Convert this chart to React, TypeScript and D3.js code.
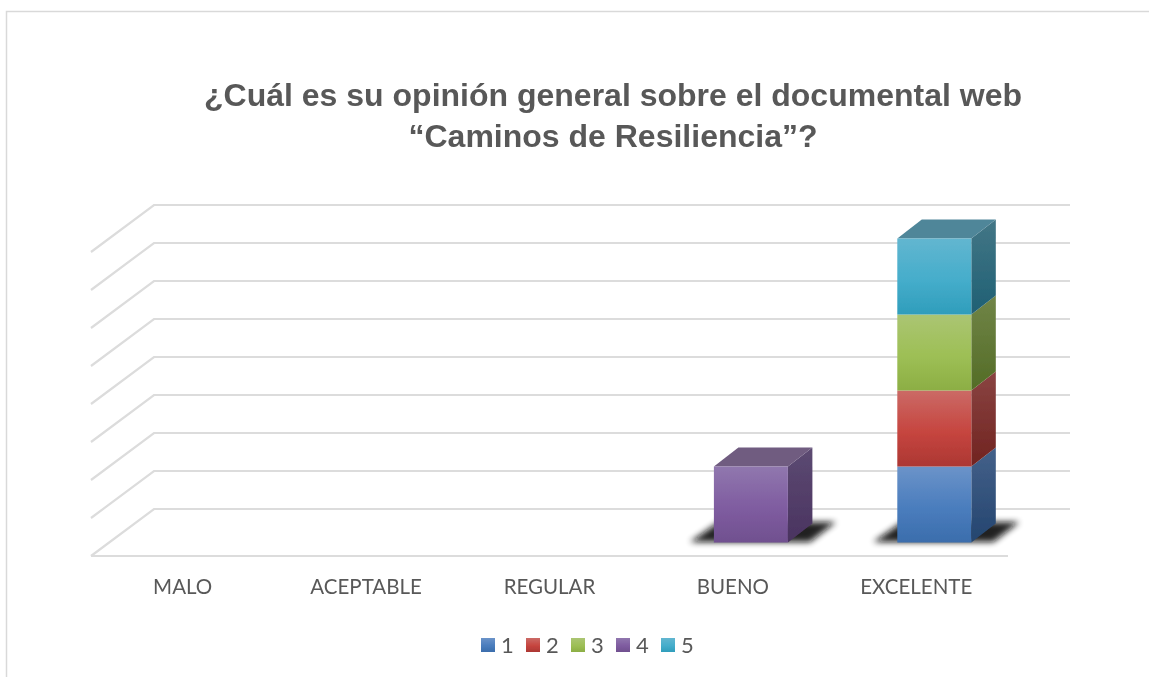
import React from "react";
import * as d3 from "d3";

const categories = ["MALO", "ACEPTABLE", "REGULAR", "BUENO", "EXCELENTE"];
const seriesNames = ["1", "2", "3", "4", "5"];
const series1 = [0, 0, 0, 0, 2];
const series2 = [0, 0, 0, 0, 2];
const series3 = [0, 0, 0, 0, 2];
const series4 = [0, 0, 0, 2, 0];
const series5 = [0, 0, 0, 0, 2];
const allSeries = [series1, series2, series3, series4, series5];
const gridValues = [0, 1, 2, 3, 4, 5, 6, 7, 8];
const titleLines = ["¿Cuál es su opinión general sobre el documental web", "“Caminos de Resiliencia”?"];

// front, side, top gradient stops per series: [light, mid, dark]
const frontColors = [
  ["#6b93c9", "#4a7dbd", "#3b6dac"],
  ["#cb6a66", "#c6453f", "#ac3733"],
  ["#abc573", "#9dbf55", "#8cae44"],
  ["#9077ae", "#7f5ca0", "#70508f"],
  ["#62b6d0", "#45adcb", "#2f9dbb"],
];
const sideColors = [
  ["#44618a", "#24456f"],
  ["#8a4442", "#702320"],
  ["#718548", "#536c26"],
  ["#5c4a72", "#4a3360"],
  ["#437686", "#1f6074"],
];
const topColors = ["#4c6e9a", "#9a5452", "#7d9350", "#6f5b80", "#508699"];

const W = 1149;
const H = 677;
const dx = 24.5;
const dy = -19;
const barW = 74;

export default function App() {
  const x = d3.scaleBand().domain(categories).range([91, 1008]);
  const yGrid = d3.scaleLinear().domain([0, 8]).range([509, 205]);
  const yBar = d3.scaleLinear().domain([0, 8]).range([542.5, 238.5]);

  const rows = categories.map((c, i) => {
    const row: Record<string, number | string> = { category: c };
    seriesNames.forEach((s, k) => (row[s] = allSeries[k][i]));
    return row;
  });
  const stacked = d3.stack().keys(seriesNames)(rows as any);
  const totals = categories.map((_, i) => d3.sum(allSeries, (s) => s[i]));

  const barX = (c: string) => (x(c) as number) + x.bandwidth() / 2 + 18 - barW / 2;

  return (
    <svg width={W} height={H} style={{ position: "absolute", left: 0, top: 0, background: "#fff" }}>
      <defs>
        {frontColors.map((c, i) => (
          <linearGradient key={i} id={`front${i}`} x1="0" y1="0" x2="0" y2="1">
            <stop offset="0" stopColor={c[0]} />
            <stop offset="0.55" stopColor={c[1]} />
            <stop offset="1" stopColor={c[2]} />
          </linearGradient>
        ))}
        {sideColors.map((c, i) => (
          <linearGradient key={i} id={`side${i}`} x1="0" y1="0" x2="0" y2="1">
            <stop offset="0" stopColor={c[0]} />
            <stop offset="1" stopColor={c[1]} />
          </linearGradient>
        ))}
        <filter id="shadowBlur" x="-30%" y="-60%" width="160%" height="220%">
          <feGaussianBlur stdDeviation="3.4" />
        </filter>
        <filter id="soft" filterUnits="userSpaceOnUse" x="0" y="0" width={W} height={H}>
          <feGaussianBlur stdDeviation="0.45" />
        </filter>
      </defs>

      <g filter="url(#soft)">
        <path d="M6.5 677V11.5H1149" fill="none" stroke="#d9d9d9" strokeWidth={1.5} />

        <g fontFamily="'Liberation Sans', Arial, sans-serif" fontWeight="700" fontSize={32} fill="#595959" textAnchor="middle">
          {titleLines.map((t, i) => (
            <text key={i} x={613} y={106 + i * 41}>{t}</text>
          ))}
        </g>

        <g fill="none" stroke="#dcdcdc" strokeWidth={2.2}>
          {gridValues.map((v) => (
            <path key={v} d={`M91 ${yGrid(v) + 47}L154 ${yGrid(v)}H1070`} />
          ))}
          <path d={`M91 ${yGrid(0) + 47}H1008`} />
        </g>

        {categories.map((c, i) =>
          totals[i] > 0 ? (
            <path
              key={c}
              d={`M${barX(c) - 24} 542L${barX(c) + 5} 522H${barX(c) + barW + 48}L${barX(c) + barW + 22} 542Z`}
              fill="#111"
              opacity={0.92}
              filter="url(#shadowBlur)"
            />
          ) : null
        )}

        {stacked.map((layer, k) => (
          <g key={seriesNames[k]}>
            {layer.map((d, i) => {
              if (d[1] - d[0] <= 0) return null;
              const c = categories[i];
              const x0 = barX(c);
              const x1 = x0 + barW;
              const yTop = yBar(d[1]);
              const yBot = yBar(d[0]);
              const isTop = d[1] === totals[i];
              return (
                <g key={c}>
                  <path d={`M${x1} ${yBot}V${yTop}l${dx} ${dy}V${yBot + dy}Z`} fill={`url(#side${k})`} />
                  {isTop && (
                    <path d={`M${x0} ${yTop}l${dx} ${dy}H${x1 + dx}L${x1} ${yTop}Z`} fill={topColors[k]} />
                  )}
                  <rect x={x0} y={yTop} width={barW} height={yBot - yTop} fill={`url(#front${k})`} />
                </g>
              );
            })}
          </g>
        ))}

        <g fontFamily="Lato, 'Open Sans', sans-serif" fontSize={20.5} fill="#595959" textAnchor="middle">
          {categories.map((c) => (
            <text key={c} x={(x(c) as number) + x.bandwidth() / 2} y={594}>{c}</text>
          ))}
        </g>

        <g fontFamily="Lato, 'Open Sans', sans-serif" fontSize={22} fill="#595959">
          {seriesNames.map((s, i) => (
            <g key={s} transform={`translate(${481 + i * 45},638)`}>
              <rect width={14} height={14} fill={`url(#front${i})`} />
              <text x={20} y={14.5}>{s}</text>
            </g>
          ))}
        </g>
      </g>
    </svg>
  );
}
